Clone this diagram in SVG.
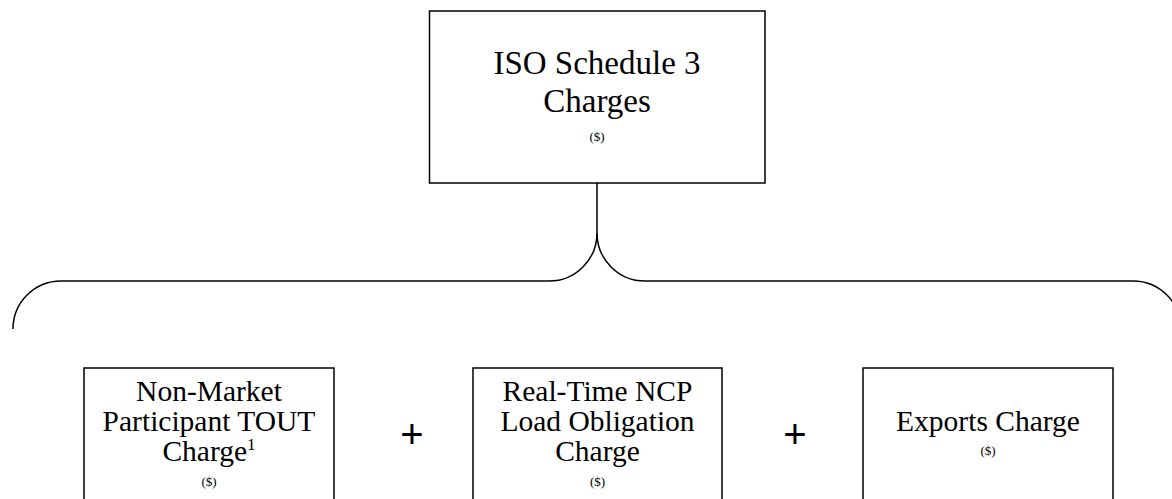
<svg xmlns="http://www.w3.org/2000/svg" width="1172" height="499" viewBox="0 0 1172 499">
<style>
.box{fill:#fff;stroke:#000;stroke-width:1.5}
.t{font-family:"Liberation Serif","DejaVu Serif",serif;fill:#000;text-anchor:middle}
.big{font-size:33px}
.mid{font-size:29.5px}
.sm{font-size:13px}
.plus{font-family:"Liberation Sans",Arial,sans-serif;font-size:40px;fill:#000;text-anchor:middle}
.con{fill:none;stroke:#000;stroke-width:1.5}
</style>
<rect width="1172" height="499" fill="#fff"/>
<g id="connectors">
<path class="con" d="M597 183 V233"/>
<path class="con" d="M597 233 A48 48 0 0 1 549 281 H61 A48 48 0 0 0 13 329"/>
<path class="con" d="M597 233 A48 48 0 0 0 645 281 H1133 A48 48 0 0 1 1181 329"/>
</g>
<g id="node-total">
<rect class="box" x="429.5" y="11" width="335.5" height="172"/>
<text class="t big" x="597" y="74">ISO Schedule 3</text>
<text class="t big" x="597" y="112">Charges</text>
<text class="t sm" x="597" y="141">($)</text>
</g>
<g id="node-tout">
<rect class="box" x="84" y="368" width="250" height="140"/>
<text class="t mid" x="209" y="401">Non-Market</text>
<text class="t mid" x="209" y="431">Participant TOUT</text>
<text class="t mid" x="209" y="461">Charge<tspan font-size="17" dy="-11">1</tspan></text>
<text class="t sm" x="209" y="486">($)</text>
</g>
<g id="plus-1"><text class="plus" x="412" y="448">+</text></g>
<g id="node-ncp">
<rect class="box" x="473" y="368" width="249" height="140"/>
<text class="t mid" x="597.5" y="401">Real-Time NCP</text>
<text class="t mid" x="597.5" y="431">Load Obligation</text>
<text class="t mid" x="597.5" y="461">Charge</text>
<text class="t sm" x="597.5" y="486">($)</text>
</g>
<g id="plus-2"><text class="plus" x="795" y="448">+</text></g>
<g id="node-exports">
<rect class="box" x="863" y="368" width="250" height="140"/>
<text class="t mid" x="988" y="431">Exports Charge</text>
<text class="t sm" x="988" y="455">($)</text>
</g>
</svg>
